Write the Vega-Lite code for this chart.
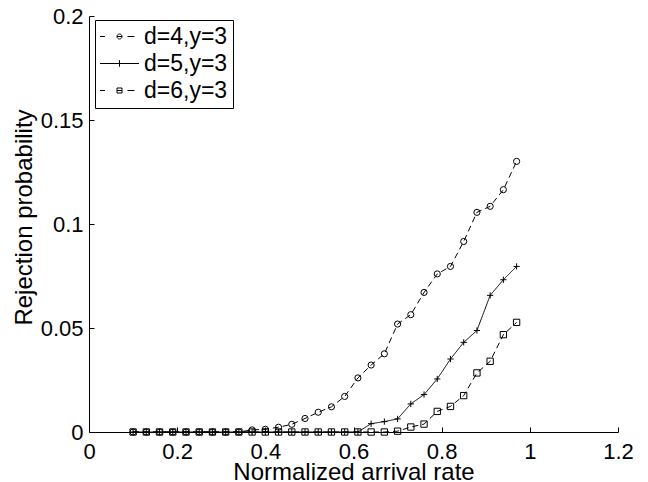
{
  "$schema": "https://vega.github.io/schema/vega-lite/v6.json",
  "width": 529,
  "height": 416,
  "autosize": {"type": "none"},
  "padding": {"left": 89, "top": 16, "right": 30, "bottom": 50},
  "background": "white",
  "config": {
    "font": "Liberation Sans",
    "view": {"stroke": null},
    "axis": {
      "domainColor": "black",
      "domainWidth": 1,
      "tickColor": "black",
      "tickWidth": 1,
      "labelColor": "black",
      "titleColor": "black",
      "titleFontWeight": "normal",
      "labelFontSize": 22,
      "titleFontSize": 24,
      "grid": false,
      "labelFlush": false,
      "labelOverlap": false
    }
  },
  "data": {
    "values": [
      {"s": "d=4,y=3", "x": 0.1, "y": 0}, {"s": "d=4,y=3", "x": 0.13, "y": 0}, {"s": "d=4,y=3", "x": 0.16, "y": 0},
      {"s": "d=4,y=3", "x": 0.19, "y": 0}, {"s": "d=4,y=3", "x": 0.22, "y": 0}, {"s": "d=4,y=3", "x": 0.25, "y": 0},
      {"s": "d=4,y=3", "x": 0.28, "y": 0}, {"s": "d=4,y=3", "x": 0.31, "y": 0}, {"s": "d=4,y=3", "x": 0.34, "y": 0},
      {"s": "d=4,y=3", "x": 0.37, "y": 0.001}, {"s": "d=4,y=3", "x": 0.4, "y": 0.0013}, {"s": "d=4,y=3", "x": 0.43, "y": 0.0023},
      {"s": "d=4,y=3", "x": 0.46, "y": 0.0037}, {"s": "d=4,y=3", "x": 0.49, "y": 0.0065}, {"s": "d=4,y=3", "x": 0.52, "y": 0.0095},
      {"s": "d=4,y=3", "x": 0.55, "y": 0.0121}, {"s": "d=4,y=3", "x": 0.58, "y": 0.0171}, {"s": "d=4,y=3", "x": 0.61, "y": 0.026},
      {"s": "d=4,y=3", "x": 0.64, "y": 0.0322}, {"s": "d=4,y=3", "x": 0.67, "y": 0.0376}, {"s": "d=4,y=3", "x": 0.7, "y": 0.0519},
      {"s": "d=4,y=3", "x": 0.73, "y": 0.0564}, {"s": "d=4,y=3", "x": 0.76, "y": 0.0671}, {"s": "d=4,y=3", "x": 0.79, "y": 0.076},
      {"s": "d=4,y=3", "x": 0.82, "y": 0.0796}, {"s": "d=4,y=3", "x": 0.85, "y": 0.0916}, {"s": "d=4,y=3", "x": 0.88, "y": 0.1056},
      {"s": "d=4,y=3", "x": 0.91, "y": 0.1085}, {"s": "d=4,y=3", "x": 0.94, "y": 0.1165}, {"s": "d=4,y=3", "x": 0.97, "y": 0.1301},
      {"s": "d=5,y=3", "x": 0.1, "y": 0}, {"s": "d=5,y=3", "x": 0.13, "y": 0}, {"s": "d=5,y=3", "x": 0.16, "y": 0},
      {"s": "d=5,y=3", "x": 0.19, "y": 0}, {"s": "d=5,y=3", "x": 0.22, "y": 0}, {"s": "d=5,y=3", "x": 0.25, "y": 0},
      {"s": "d=5,y=3", "x": 0.28, "y": 0}, {"s": "d=5,y=3", "x": 0.31, "y": 0}, {"s": "d=5,y=3", "x": 0.34, "y": 0},
      {"s": "d=5,y=3", "x": 0.37, "y": 0}, {"s": "d=5,y=3", "x": 0.4, "y": 0}, {"s": "d=5,y=3", "x": 0.43, "y": 0},
      {"s": "d=5,y=3", "x": 0.46, "y": 0}, {"s": "d=5,y=3", "x": 0.49, "y": 0}, {"s": "d=5,y=3", "x": 0.52, "y": 0},
      {"s": "d=5,y=3", "x": 0.55, "y": 0}, {"s": "d=5,y=3", "x": 0.58, "y": 0}, {"s": "d=5,y=3", "x": 0.61, "y": 0},
      {"s": "d=5,y=3", "x": 0.64, "y": 0.004}, {"s": "d=5,y=3", "x": 0.67, "y": 0.005}, {"s": "d=5,y=3", "x": 0.7, "y": 0.0063},
      {"s": "d=5,y=3", "x": 0.73, "y": 0.0135}, {"s": "d=5,y=3", "x": 0.76, "y": 0.018}, {"s": "d=5,y=3", "x": 0.79, "y": 0.0255},
      {"s": "d=5,y=3", "x": 0.82, "y": 0.0351}, {"s": "d=5,y=3", "x": 0.85, "y": 0.0431}, {"s": "d=5,y=3", "x": 0.88, "y": 0.0488},
      {"s": "d=5,y=3", "x": 0.91, "y": 0.0657}, {"s": "d=5,y=3", "x": 0.94, "y": 0.0732}, {"s": "d=5,y=3", "x": 0.97, "y": 0.0796},
      {"s": "d=6,y=3", "x": 0.1, "y": 0}, {"s": "d=6,y=3", "x": 0.13, "y": 0}, {"s": "d=6,y=3", "x": 0.16, "y": 0},
      {"s": "d=6,y=3", "x": 0.19, "y": 0}, {"s": "d=6,y=3", "x": 0.22, "y": 0}, {"s": "d=6,y=3", "x": 0.25, "y": 0},
      {"s": "d=6,y=3", "x": 0.28, "y": 0}, {"s": "d=6,y=3", "x": 0.31, "y": 0}, {"s": "d=6,y=3", "x": 0.34, "y": 0},
      {"s": "d=6,y=3", "x": 0.37, "y": 0}, {"s": "d=6,y=3", "x": 0.4, "y": 0}, {"s": "d=6,y=3", "x": 0.43, "y": 0},
      {"s": "d=6,y=3", "x": 0.46, "y": 0}, {"s": "d=6,y=3", "x": 0.49, "y": 0}, {"s": "d=6,y=3", "x": 0.52, "y": 0},
      {"s": "d=6,y=3", "x": 0.55, "y": 0}, {"s": "d=6,y=3", "x": 0.58, "y": 0}, {"s": "d=6,y=3", "x": 0.61, "y": 0},
      {"s": "d=6,y=3", "x": 0.64, "y": 0}, {"s": "d=6,y=3", "x": 0.67, "y": 0}, {"s": "d=6,y=3", "x": 0.7, "y": 0.0004},
      {"s": "d=6,y=3", "x": 0.73, "y": 0.0024}, {"s": "d=6,y=3", "x": 0.76, "y": 0.0038}, {"s": "d=6,y=3", "x": 0.79, "y": 0.0099},
      {"s": "d=6,y=3", "x": 0.82, "y": 0.0123}, {"s": "d=6,y=3", "x": 0.85, "y": 0.0175}, {"s": "d=6,y=3", "x": 0.88, "y": 0.0284},
      {"s": "d=6,y=3", "x": 0.91, "y": 0.034}, {"s": "d=6,y=3", "x": 0.94, "y": 0.0468}, {"s": "d=6,y=3", "x": 0.97, "y": 0.0527}
    ]
  },
  "encoding": {
    "x": {
      "field": "x",
      "type": "quantitative",
      "scale": {"domain": [0, 1.2], "nice": false, "zero": false},
      "axis": {
        "values": [0, 0.2, 0.4, 0.6, 0.8, 1, 1.2],
        "format": "~g",
        "title": "Normalized arrival rate",
        "tickSize": -5,
        "labelPadding": 31,
        "labelBaseline": "alphabetic",
        "titleY": 47.5,
        "titleBaseline": "alphabetic"
      }
    },
    "y": {
      "field": "y",
      "type": "quantitative",
      "scale": {"domain": [0, 0.2], "nice": false},
      "axis": {
        "values": [0, 0.05, 0.1, 0.15, 0.2],
        "format": "~g",
        "title": "Rejection probability",
        "tickSize": -5,
        "labelPadding": 11,
        "labelBaseline": "middle",
        "titleX": -58,
        "titleY": 201,
        "titleAngle": -90,
        "titleBaseline": "alphabetic"
      }
    }
  },
  "resolve": {"scale": {"shape": "independent", "size": "independent"}, "legend": {"shape": "independent"}},
  "layer": [
    {
      "mark": {"type": "line", "color": "black", "strokeWidth": 1},
      "encoding": {
        "strokeDash": {
          "field": "s",
          "type": "nominal",
          "scale": {"domain": ["d=4,y=3", "d=5,y=3", "d=6,y=3"], "range": [[6, 4], [1, 0], [6, 4]]},
          "legend": null
        }
      }
    },
    {
      "mark": {"type": "point", "filled": false, "color": "black", "strokeWidth": 1, "opacity": 1},
      "encoding": {
        "shape": {
          "field": "s",
          "type": "nominal",
          "scale": {"domain": ["d=4,y=3", "d=5,y=3", "d=6,y=3"], "range": ["circle", "M-1,0L1,0M0,-1L0,1", "square"]},
          "legend": null
        },
        "size": {
          "field": "s",
          "type": "nominal",
          "scale": {"domain": ["d=4,y=3", "d=5,y=3", "d=6,y=3"], "range": [38, 40, 28]},
          "legend": null
        }
      }
    },
    {
      "mark": {"type": "point", "filled": false, "color": "black", "strokeWidth": 1, "opacity": 0},
      "encoding": {
        "shape": {
          "field": "s",
          "type": "nominal",
          "scale": {
            "domain": ["d=4,y=3", "d=5,y=3", "d=6,y=3"],
            "range": [
              "M-1.15,0L-0.65,0M1.6,0L2.3,0M1.05,0A0.25,0.25 0 1,1 0.55,0A0.25,0.25 0 1,1 1.05,0M0.55,0L1.05,0",
              "M-1.15,0L2.75,0M0.8,-0.33L0.8,0.33",
              "M-1.15,0L-0.65,0M1.6,0L2.3,0M0.55,-0.25L1.05,-0.25L1.05,0.25L0.55,0.25ZM0.55,0L1.05,0"
            ]
          },
          "legend": {
            "title": null,
            "orient": "none",
            "legendX": 6,
            "legendY": 4,
            "strokeColor": "black",
            "fillColor": "white",
            "padding": 5,
            "labelFontSize": 23,
            "labelColor": "black",
            "labelFont": "Liberation Sans",
            "symbolSize": 400,
            "symbolOffset": 0,
            "labelOffset": 21,
            "rowPadding": 3,
            "symbolOpacity": 1,
            "symbolStrokeColor": "black",
            "symbolFillColor": "transparent",
            "symbolStrokeWidth": 1
          }
        }
      }
    }
  ]
}
